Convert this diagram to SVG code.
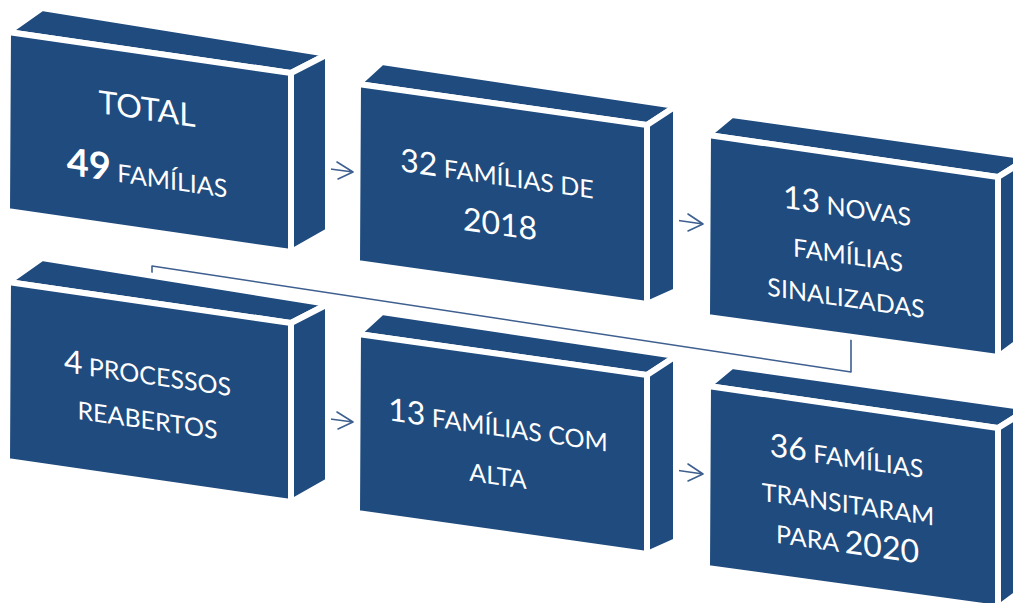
<svg xmlns="http://www.w3.org/2000/svg" width="1013" height="603" viewBox="0 0 1013 603">
<style>
.face{fill:#1F4B7E;stroke:#FFFFFF;stroke-width:6;stroke-linejoin:miter}
.conn{fill:none;stroke:#3E5F8F;stroke-width:1.6;stroke-linecap:round;stroke-linejoin:round}
.t{font-family:Lato,"Liberation Sans",sans-serif;fill:#FFFFFF;text-anchor:middle;font-size:25px}
.big{font-size:32px}
.bold{font-size:38px;font-weight:bold}
</style>
<rect width="1013" height="603" fill="#FFFFFF"/>
<g id="connectors">
<path class="conn" d="M851,338 L851,372 L152,266 L152,285"/>
<path class="conn" d="M315,167 L353,172 M337,162 L353,172 L338,179"/>
<path class="conn" d="M668,219 L703,224 M688,214 L703,224 L688,231"/>
<path class="conn" d="M315,417 L353,422 M337,412 L353,422 L338,429"/>
<path class="conn" d="M668,469 L703,474 M688,464 L703,474 L688,481"/>
</g>
<g id="node1">
<polygon class="face" points="8,32 42,8 328,54 291,73"/>
<polygon class="face" points="291,73 328,54 328,231 291,252"/>
<polygon class="face" points="8,32 291,73 291,252 7,211"/>
<g transform="translate(8,32) skewY(8.2)">
<text class="t big" x="139" y="68">TOTAL</text>
<text class="t" x="139" y="134"><tspan class="bold">49</tspan> FAMÍLIAS</text>
</g>
</g>
<g id="node2">
<polygon class="face" points="358,84 382,62 676,106 647,125"/>
<polygon class="face" points="647,125 676,106 676,291 647,304"/>
<polygon class="face" points="358,84 647,125 647,304 357,263"/>
<g transform="translate(358,84) skewY(8.1)">
<text class="t" x="139" y="81"><tspan class="big">32</tspan> FAMÍLIAS DE</text>
<text class="t big" x="142" y="131">2018</text>
</g>
</g>
<g id="node3">
<polygon class="face" points="708,135 732,115 1030,157 998,177"/>
<polygon class="face" points="998,177 1030,157 1030,333 998,357"/>
<polygon class="face" points="708,135 998,177 998,357 707,317"/>
<g transform="translate(708,135) skewY(8.2)">
<text class="t" x="139" y="62"><tspan class="big">13</tspan> NOVAS</text>
<text class="t" x="140" y="109">FAMÍLIAS</text>
<text class="t" x="138" y="152">SINALIZADAS</text>
</g>
</g>
<g id="node4">
<polygon class="face" points="8,282 42,258 328,304 291,323"/>
<polygon class="face" points="291,323 328,304 328,481 291,502"/>
<polygon class="face" points="8,282 291,323 291,502 7,461"/>
<g transform="translate(8,282) skewY(8.2)">
<text class="t" x="139.5" y="82"><tspan class="big">4</tspan> PROCESSOS</text>
<text class="t" x="139.5" y="127">REABERTOS</text>
</g>
</g>
<g id="node5">
<polygon class="face" points="358,334 382,312 676,356 647,375"/>
<polygon class="face" points="647,375 676,356 676,541 647,554"/>
<polygon class="face" points="358,334 647,375 647,554 357,513"/>
<g transform="translate(358,334) skewY(8.1)">
<text class="t" x="140" y="82"><tspan class="big">13</tspan> FAMÍLIAS COM</text>
<text class="t" x="140" y="131">ALTA</text>
</g>
</g>
<g id="node6">
<polygon class="face" points="708,386 732,366 1030,408 998,428"/>
<polygon class="face" points="998,428 1030,408 1030,584 998,608"/>
<polygon class="face" points="708,386 998,428 998,608 707,568"/>
<g transform="translate(708,386) skewY(8.2)">
<text class="t" x="138.5" y="61"><tspan class="big">36</tspan> FAMÍLIAS</text>
<text class="t" x="140" y="107">TRANSITARAM</text>
<text class="t" x="139.5" y="147">PARA <tspan class="big">2020</tspan></text>
</g>
</g>
</svg>
